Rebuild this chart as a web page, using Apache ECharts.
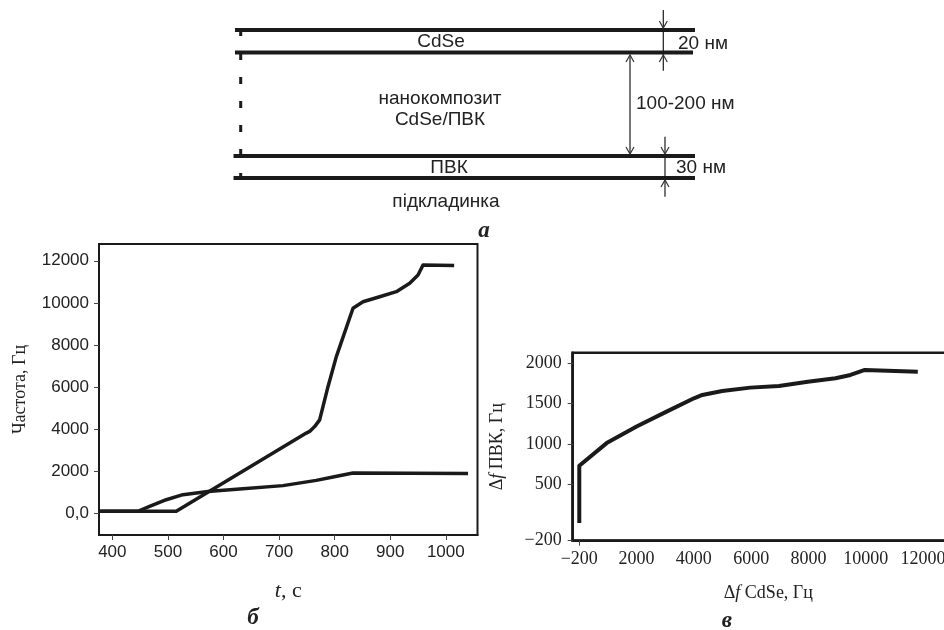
<!DOCTYPE html>
<html>
<head>
<meta charset="utf-8">
<script src="https://cdn.jsdelivr.net/npm/echarts@6/dist/echarts.min.js"></script>
<style>
  html, body { margin: 0; padding: 0; background: #fff; }
  #main { width: 944px; height: 630px; }
</style>
</head>
<body>
<div id="main"></div>
<script>
// panel б: frequency vs time
const tTicks = [400, 500, 600, 700, 800, 900, 1000]
const freqTicks = [0, 2000, 4000, 6000, 8000, 10000, 12000]
const cdseT = [376, 515, 574, 749, 755, 764, 773, 788, 803, 833, 851, 881, 911, 935, 950, 959, 1015]
const cdseF = [80, 80, 1020, 3800, 3880, 4110, 4430, 6010, 7440, 9740, 10050, 10290, 10530, 10930, 11320, 11800, 11780]
const pvkT = [376, 446, 467, 497, 527, 572, 629, 707, 767, 797, 833, 1040]
const pvkF = [80, 80, 310, 630, 870, 1020, 1140, 1300, 1550, 1710, 1900, 1880]

// panel в: Δf ПВК vs Δf CdSe
const dfXTicks = [0, 2000, 4000, 6000, 8000, 10000, 12000]
const dfXLabels = ['\u2212200', '2000', '4000', '6000', '8000', '10000', '12000']
const dfYTicks = [-200, 500, 1000, 1500, 2000]
const dfCdse = [0, 0, 955, 2000, 3047, 4003, 4293, 4991, 5969, 6970, 7977, 8944, 9468, 9969, 11818]
const dfPvk = [20, 730, 1010, 1215, 1400, 1566, 1607, 1657, 1698, 1719, 1772, 1814, 1855, 1917, 1896]

const ink = '#1a1a1a'
const sans = '"Liberation Sans", Arial, sans-serif'
const serif = '"Liberation Serif", "Times New Roman", serif'

function pairs(xs, ys) {
  return xs.map((x, i) => [x, ys[i]])
}

// small open arrow head, dir 1 = pointing down, -1 = pointing up
function arrow(x, tip, dir) {
  return {
    type: 'polyline',
    shape: { points: [[x - 4, tip - dir * 7], [x, tip], [x + 4, tip - dir * 7]] },
    style: { stroke: '#333', lineWidth: 1.2, fill: null }
  }
}
function hline(y, x1, x2) {
  return { type: 'line', shape: { x1: x1, y1: y, x2: x2, y2: y }, style: { stroke: ink, lineWidth: 4 } }
}
function vline(x, y1, y2, w, dash) {
  return { type: 'line', shape: { x1: x, y1: y1, x2: x, y2: y2 }, style: { stroke: ink, lineWidth: w, lineDash: dash || null } }
}
function label(text, x, y, font, align) {
  return {
    type: 'text', x: x, y: y,
    style: { text: text, fill: '#222', font: font, align: align || 'center', verticalAlign: 'middle' }
  }
}

const chart = echarts.init(document.getElementById('main'), null, { renderer: 'canvas' })

const diagram = [
  hline(30, 235, 695),
  hline(52.5, 235, 693),
  hline(156, 233.5, 695),
  hline(178, 233.5, 695),
  vline(240.7, 29, 178, 3, [7, 17]),
  vline(663.3, 10, 70.7, 1.2),
  arrow(663.3, 28, 1),
  arrow(663.3, 55, -1),
  vline(630, 55, 154, 1.2),
  arrow(630, 55, -1),
  arrow(630, 154, 1),
  vline(665, 136.7, 196.7, 1.2),
  arrow(665, 154, 1),
  arrow(665, 180, -1),
  label('CdSe', 441, 42, '19px ' + sans),
  label('нанокомпозит', 440, 99, '19px ' + sans),
  label('CdSe/ПВК', 440, 120, '19px ' + sans),
  label('ПВК', 449, 168, '19px ' + sans),
  label('підкладинка', 446, 202, '19px ' + sans),
  label('100-200 нм', 636, 104, '19px ' + sans, 'left'),
  label('20 нм', 678, 44, '19px ' + sans, 'left'),
  label('30 нм', 676, 167.5, '19px ' + sans, 'left'),
  label('а', 484, 231, 'italic bold 23px ' + serif),
  label('б', 253, 618, 'italic bold 23px ' + serif),
  label('в', 727, 621, 'italic bold 23px ' + serif)
]

option = {
  backgroundColor: '#fff',
  animation: false,
  graphic: diagram,
  grid: [
    { left: 99, top: 244, width: 378.5, height: 291, outerBoundsMode: 'none', show: true, borderColor: ink, borderWidth: 2 },
    { left: 572.7, top: 352.7, width: 391.3, height: 188, outerBoundsMode: 'none', show: true, borderColor: ink, borderWidth: 2.5 }
  ],
  xAxis: [
    {
      gridIndex: 0, type: 'value', min: 376, max: 1057,
      axisLine: { onZero: false, lineStyle: { color: ink, width: 2 } },
      axisTick: { customValues: tTicks, length: 5, lineStyle: { color: '#444' } },
      axisLabel: {
        customValues: tTicks, fontSize: 17, fontFamily: sans, color: '#222', margin: 9,
        formatter: v => String(v)
      },
      splitLine: { show: false },
      name: '{i|t}{r|, с}', nameLocation: 'middle', nameGap: 45,
      nameTextStyle: {
        rich: {
          i: { fontFamily: serif, fontStyle: 'italic', fontSize: 22, color: '#222' },
          r: { fontFamily: serif, fontSize: 22, color: '#222' }
        }
      }
    },
    {
      gridIndex: 1, type: 'value', min: -230, max: 13430,
      axisLine: { onZero: false, lineStyle: { color: ink, width: 2.5 } },
      axisTick: { customValues: [0], length: 5, lineStyle: { color: '#444' } },
      axisLabel: {
        customValues: dfXTicks, fontSize: 18, fontFamily: serif, color: '#222', margin: 10,
        hideOverlap: false,
        formatter: v => dfXLabels[dfXTicks.indexOf(v)]
      },
      splitLine: { show: false },
      name: '{d|Δ}{i|f}{r| CdSe, Гц}', nameLocation: 'middle', nameGap: 44,
      nameTextStyle: {
        rich: {
          d: { fontFamily: serif, fontSize: 18, color: '#222' },
          i: { fontFamily: serif, fontStyle: 'italic', fontSize: 18, color: '#222' },
          r: { fontFamily: serif, fontSize: 18, color: '#222' }
        }
      }
    }
  ],
  yAxis: [
    {
      gridIndex: 0, type: 'value', min: -1050, max: 12800,
      axisLine: { show: true, onZero: false, lineStyle: { color: ink, width: 2 } },
      axisTick: { show: true, customValues: freqTicks, length: 5, lineStyle: { color: '#444' } },
      axisLabel: {
        customValues: freqTicks, fontSize: 17, fontFamily: sans, color: '#222', margin: 10,
        formatter: v => v === 0 ? '0,0' : String(v)
      },
      splitLine: { show: false },
      name: 'Частота, Гц', nameLocation: 'middle', nameGap: 70,
      nameTextStyle: { fontFamily: serif, fontSize: 18, color: '#222' }
    },
    {
      gridIndex: 1, type: 'value', min: -200, max: 2131,
      axisLine: { show: true, onZero: false, lineStyle: { color: ink, width: 2.5 } },
      axisTick: { show: true, customValues: dfYTicks, length: 5, lineStyle: { color: '#444' } },
      axisLabel: {
        customValues: dfYTicks, fontSize: 18, fontFamily: serif, color: '#222', margin: 11,
        formatter: v => v < 0 ? '\u2212' + Math.abs(v) : String(v)
      },
      splitLine: { show: false },
      name: '{d|Δ}{i|f}{r| ПВК, Гц}', nameLocation: 'middle', nameGap: 66,
      nameTextStyle: {
        rich: {
          d: { fontFamily: serif, fontSize: 18, color: '#222' },
          i: { fontFamily: serif, fontStyle: 'italic', fontSize: 18, color: '#222' },
          r: { fontFamily: serif, fontSize: 18, color: '#222' }
        }
      }
    }
  ],
  series: [
    {
      name: 'CdSe', type: 'line', xAxisIndex: 0, yAxisIndex: 0,
      data: pairs(cdseT, cdseF), symbol: 'none',
      lineStyle: { color: ink, width: 3.5, join: 'round' }
    },
    {
      name: 'ПВК', type: 'line', xAxisIndex: 0, yAxisIndex: 0,
      data: pairs(pvkT, pvkF), symbol: 'none',
      lineStyle: { color: ink, width: 3.5, join: 'round' }
    },
    {
      name: 'Δf', type: 'line', xAxisIndex: 1, yAxisIndex: 1,
      data: pairs(dfCdse, dfPvk), symbol: 'none',
      lineStyle: { color: ink, width: 4, join: 'round' }
    }
  ]
}
chart.setOption(option)
</script>
</body>
</html>
